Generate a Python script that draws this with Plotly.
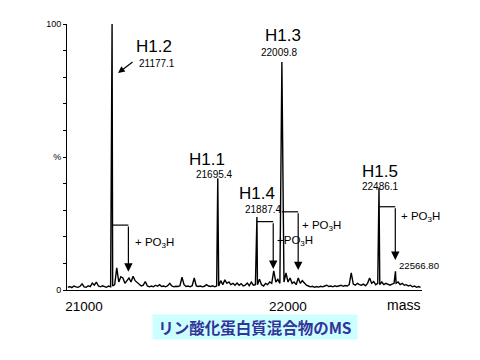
import plotly.graph_objects as go

# ---------------- data ----------------
# baseline / minor-peak spectrum sampled every 10 Da (intensity in %)
grid_start = 20960
grid_step = 10
grid_intensity = [
    1.0, 1.3, 0.9, 1.5, 1.2, 1.0, 1.4, 2.3, 1.2, 1.0,   # 20960-21050
    1.6, 1.3, 2.6, 1.8, 3.0, 1.5, 1.2, 1.6, 1.3, 1.0,   # 21060-21150
    1.5, 1.2, 1.5, 2.0, 8.3, 3.0, 5.0, 4.5, 2.5, 3.5,   # 21160-21250
    4.5, 3.0, 5.2, 3.5, 2.8, 2.0, 1.5, 1.8, 3.2, 1.5,   # 21260-21350
    1.2, 1.5, 1.2, 1.8, 1.4, 2.0, 1.3, 1.5, 1.2, 1.6,   # 21360-21450
    2.5, 1.5, 1.2, 1.4, 1.3, 1.6, 4.8, 2.0, 1.3, 1.5,   # 21460-21550
    1.2, 1.6, 4.5, 1.5, 1.3, 1.5, 1.2, 1.4, 2.0, 1.5,   # 21560-21650
    1.3, 1.6, 1.2, 1.5, 1.5, 3.5, 2.0, 3.8, 2.5, 3.0,   # 21660-21750
    2.0, 2.5, 1.8, 2.6, 1.8, 2.4, 1.5, 1.8, 2.6, 1.6,   # 21760-21850
    3.0, 1.8, 2.0, 2.0, 4.0, 2.0, 1.5, 2.5, 2.0, 3.0,   # 21860-21950
    2.5, 7.2, 3.0, 4.0, 2.5, 2.0, 3.0, 6.4, 3.0, 4.5,   # 21960-22050
    2.5, 3.0, 2.0, 4.5, 2.5, 3.5, 2.6, 1.8, 1.5, 1.2,   # 22060-22150
    1.4, 1.0, 1.3, 1.1, 1.4, 1.2, 1.5, 1.8, 1.3, 1.5,   # 22160-22250
    1.2, 1.6, 1.3, 1.5, 1.8, 1.4, 1.7, 1.5, 2.0, 6.4,   # 22260-22350
    2.2, 1.8, 2.5, 2.0, 1.8, 2.2, 1.6, 2.5, 4.5, 2.5,   # 22360-22450
    3.2, 2.0, 2.5, 2.0, 3.0, 2.0, 2.5, 2.0, 1.8, 2.2,   # 22460-22550
    2.5, 2.5, 3.0, 2.0, 2.5, 1.8, 2.0, 1.5, 1.8, 1.2,   # 22560-22650
    1.5, 1.0, 1.3, 1.0,                                 # 22660-22690
]

# main labelled peaks
peak_names = ["H1.2", "H1.1", "H1.4", "H1.3", "H1.5"]
peak_mass = [21177.1, 21695.4, 21887.4, 22009.8, 22486.1]
peak_int = [100.0, 42.0, 27.4, 85.7, 38.3]

# phosphorylated peak labelled separately
phos_peak_mass = 22566.80
phos_peak_int = 7.0

PO3H = 79.98  # mass shift

x_tick_vals = [21000, 22000]
x_tick_text = ["21000", "22000"]
y_tick_vals = [0, 10, 20, 30, 40, 50, 60, 70, 80, 90, 100]
y_tick_text = ["0", "", "", "", "", "%", "", "", "", "", "100"]

title_text = "リン酸化蛋白質混合物のMS"

# ---------------- build spectrum ----------------
all_peaks = list(zip(peak_mass, peak_int)) + [(phos_peak_mass, phos_peak_int)]
pts = []
for i, v in enumerate(grid_intensity):
    m = grid_start + grid_step * i
    if all(abs(m - pm) > 2.5 for pm, _ in all_peaks):
        pts.append((m, v))
pts += all_peaks
pts.sort()
spec_x = [p[0] for p in pts]
spec_y = [p[1] for p in pts]

fig = go.Figure()
fig.add_trace(go.Scatter(x=spec_x, y=spec_y, mode="lines",
                         line=dict(color="black", width=1.4),
                         hoverinfo="skip", showlegend=False))

FONT = "Liberation Sans, Arial, sans-serif"
ann = []

# peak name / mass labels (positions in data units)
label_pos = {
    "H1.2": ((21385, 91.4), (21398, 85.2)),
    "H1.1": ((21643, 49.1), (21677, 43.3)),
    "H1.4": ((21890, 36.1), (21922, 30.1)),
    "H1.3": ((22015, 95.5), (21996, 89.3)),
    "H1.5": ((22491, 44.6), (22491, 39.0)),
}
for name, m in zip(peak_names, peak_mass):
    (nx, ny), (mx, my) = label_pos[name]
    ann.append(dict(x=nx, y=ny, text=name, showarrow=False,
                    font=dict(family=FONT, size=17, color="black")))
    ann.append(dict(x=mx, y=my, text=f"{m:.1f}", showarrow=False,
                    font=dict(family=FONT, size=10, color="black")))

ann.append(dict(x=22574, y=9.4, text=f"{phos_peak_mass:.2f}", showarrow=False,
                xanchor="left", font=dict(family=FONT, size=9.6, color="black")))

# pointer arrow for H1.2
ann.append(dict(x=21206.5, y=81.6, ax=16, ay=-12, text="", showarrow=True,
                arrowhead=2, arrowsize=1.1, arrowwidth=1.2, arrowcolor="black"))

# +PO3H brackets: (peak index, bracket y, arrow tip y, text, text x, text y)
brackets = [
    (0, 24.4, 6.9, "+ PO<sub>3</sub>H", 21280, 17.7),
    (2, 25.7, 7.9, "+PO<sub>3</sub>H", 21976, 18.4),
    (3, 29.4, 7.5, "+ PO<sub>3</sub>H", 22099, 24.1),
    (4, 31.3, 11.3, "+ PO<sub>3</sub>H", 22584, 27.4),
]
shapes = []
for idx, yb, yt, txt, tx, ty in brackets:
    m0 = peak_mass[idx]
    m1 = m0 + PO3H
    shapes.append(dict(type="line", xref="x", yref="y", x0=m0, x1=m1, y0=yb, y1=yb,
                       line=dict(color="black", width=1.2)))
    ann.append(dict(x=m1, y=yt, ax=m1, ay=yb, axref="x", ayref="y", text="",
                    showarrow=True, arrowhead=2, arrowsize=1.4, arrowwidth=1.2,
                    arrowcolor="black"))
    ann.append(dict(x=tx, y=ty, text=txt, showarrow=False, xanchor="left",
                    font=dict(family=FONT, size=11.5, color="black")))

# axis name
ann.append(dict(x=1, y=0, xref="paper", yref="paper", xanchor="right", yanchor="top",
                yshift=-5, text="mass", showarrow=False,
                font=dict(family=FONT, size=14, color="black")))

# title box
ann.append(dict(x=0.5296, y=-0.139, xref="paper", yref="paper", xanchor="center",
                yanchor="middle", text=title_text, showarrow=False,
                bgcolor="#CCFFFF", width=204, height=24, borderpad=0,
                font=dict(family="Noto Sans CJK JP", size=15.5, color="#333399",
                          weight="bold")))

fig.update_layout(
    width=480, height=360, autosize=False,
    margin=dict(l=67, r=58, t=24, b=70),
    paper_bgcolor="white", plot_bgcolor="white",
    annotations=ann, shapes=shapes, showlegend=False,
    xaxis=dict(range=[20956, 22697], showgrid=False, zeroline=False,
               showline=True, linecolor="black", linewidth=1,
               tickvals=x_tick_vals, ticktext=x_tick_text, ticks="",
               ticklabelshift=8, ticklabelstandoff=4,
               tickfont=dict(family=FONT, size=13.5, color="black")),
    yaxis=dict(range=[0, 100], showgrid=False, zeroline=False,
               showline=True, linecolor="black", linewidth=1,
               tickvals=y_tick_vals, ticktext=y_tick_text, ticks="outside",
               ticklen=3, tickcolor="black", tickwidth=1,
               tickfont=dict(family=FONT, size=9, color="black")),
)

fig.write_html("out.html")
